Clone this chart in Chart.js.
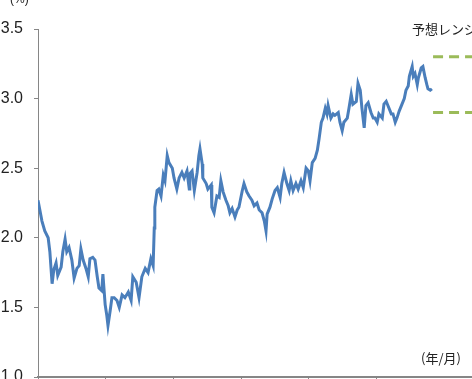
<!DOCTYPE html>
<html>
<head>
<meta charset="utf-8">
<script src="https://cdn.jsdelivr.net/npm/chart.js@4.4.1/dist/chart.umd.min.js"></script>
<style>
  html, body { margin: 0; padding: 0; background: #fff; }
  #wrap { width: 472px; height: 379px; position: relative; }
</style>
</head>
<body>
<div id="wrap"><canvas id="chart"></canvas></div>
<script>
// months from start of series
var months = [0,0.7,1.2,1.8,2.1,2.5,2.8,3.2,3.5,4.1,4.4,4.8,5.1,5.5,6.0,6.4,6.9,7.3,7.6,8.0,
  8.5,8.9,9.2,9.7,10.1,10.5,10.8,11.3,11.5,11.9,12.2,12.4,12.8,13.1,13.5,14.0,14.4,14.9,15.4,16.0,
  16.5,16.8,17.4,17.9,18.4,19.0,19.5,20.0,20.4,20.6,20.7,21.1,21.4,21.8,22.2,22.5,22.9,23.2,23.8,24.1,
  24.6,25.0,25.5,25.9,26.4,26.8,26.9,27.3,27.7,28.2,28.5,28.7,29.1,29.2,29.8,30.1,30.7,30.8,31.2,31.7,
  32.1,32.4,32.8,33.3,33.7,34.0,34.4,34.9,35.3,35.6,36.2,36.5,37.0,37.4,37.9,38.3,38.8,39.2,39.7,40.1,
  40.4,40.6,41.1,41.5,42.0,42.4,42.9,43.2,43.6,44.1,44.5,44.8,45.2,45.7,46.1,46.6,47.0,47.5,47.9,48.2,
  48.6,49.1,49.5,49.8,50.2,50.5,50.9,51.2,51.4,51.9,52.3,52.6,53.2,53.5,53.9,54.2,54.8,55.1,55.5,55.8,
  56.4,56.7,57.1,57.4,57.8,58.1,58.5,59.0,59.4,59.7,60.1,60.4,61.0,61.3,61.7,62.0,62.6,62.9,63.3,63.6,
  64.0,64.5,64.9,65.2,65.6,65.8,66.3,66.5,66.8,67.2,67.4,67.9,68.2,68.6,68.9,69.1,69.5,69.8];

// yield (%)
var yields = [2.27,2.12,2.05,2.00,1.90,1.67,1.77,1.82,1.73,1.79,1.90,1.99,1.90,1.93,1.84,1.71,1.78,1.80,1.92,1.84,
  1.78,1.72,1.85,1.86,1.84,1.72,1.64,1.62,1.74,1.52,1.44,1.37,1.48,1.57,1.57,1.55,1.50,1.59,1.57,1.61,
  1.55,1.72,1.68,1.57,1.72,1.78,1.75,1.85,1.80,2.07,2.22,2.34,2.35,2.30,2.45,2.41,2.59,2.54,2.50,2.43,
  2.35,2.43,2.47,2.43,2.48,2.35,2.46,2.48,2.34,2.47,2.59,2.64,2.53,2.43,2.39,2.35,2.38,2.22,2.18,2.30,
  2.29,2.41,2.33,2.27,2.23,2.18,2.21,2.15,2.20,2.22,2.34,2.39,2.33,2.30,2.27,2.23,2.25,2.20,2.18,2.12,
  2.05,2.17,2.22,2.28,2.34,2.36,2.29,2.39,2.47,2.39,2.34,2.41,2.34,2.39,2.35,2.41,2.36,2.50,2.48,2.41,
  2.54,2.57,2.63,2.71,2.83,2.86,2.93,2.89,2.95,2.86,2.89,2.88,2.90,2.83,2.77,2.83,2.86,2.93,3.03,2.96,
  2.98,3.11,3.06,2.93,2.79,2.95,2.97,2.90,2.86,2.86,2.83,2.89,2.86,2.96,2.98,2.95,2.89,2.89,2.83,2.86,
  2.91,2.96,3.00,3.06,3.09,3.16,3.23,3.16,3.18,3.10,3.15,3.22,3.23,3.15,3.10,3.07,3.06,3.07];

// forecast range
var rangeMonths = [70, 77];
var rangeHigh = [3.3, 3.3];
var rangeLow = [2.9, 2.9];

var yTicks = [1.0, 1.5, 2.0, 2.5, 3.0, 3.5];

function pts(xs, ys) {
  return xs.map(function (x, i) { return { x: x, y: ys[i] }; });
}

var axisGray = "#868686";
var fontFam = "'Liberation Sans', sans-serif";

// extra texts: unit labels and range caption
var textPlugin = {
  id: "texts",
  afterDraw: function (chart) {
    var ctx = chart.ctx;
    ctx.save();
    ctx.fillStyle = "#222";
    ctx.textBaseline = "middle";
    ctx.font = "12px " + fontFam;
    ctx.textAlign = "left";
    ctx.fillText("(%)", 10, 0);
    ctx.font = "13px 'Noto Sans CJK JP', sans-serif";
    ctx.textAlign = "right";
    ctx.fillText("(年/月)", 461, 358);
    ctx.textAlign = "left";
    ctx.fillText("予想レンジ", 412, 29);
    ctx.restore();
  }
};

new Chart(document.getElementById("chart"), {
  type: "line",
  data: {
    datasets: [{
      data: pts(months, yields),
      borderColor: "#4a7ebb",
      borderWidth: 3,
      pointRadius: 0,
      tension: 0
    }, {
      data: pts(rangeMonths, rangeHigh),
      borderColor: "#9bbb59",
      borderWidth: 3,
      borderDash: [10, 6],
      pointRadius: 0
    }, {
      data: pts(rangeMonths, rangeLow),
      borderColor: "#9bbb59",
      borderWidth: 3,
      borderDash: [10, 6],
      pointRadius: 0
    }]
  },
  options: {
    responsive: true,
    maintainAspectRatio: false,
    animation: false,
    layout: { padding: { top: 29, right: 0, bottom: 0, left: 0 } },
    plugins: { legend: { display: false }, tooltip: { enabled: false } },
    scales: {
      x: {
        type: "linear",
        min: 0,
        max: 76.9,
        afterFit: function (s) { s.height = 2; s.paddingLeft = 0; s.paddingRight = 0; },
        ticks: { display: false, stepSize: 12 },
        grid: { drawOnChartArea: false, drawTicks: true, tickLength: 4, color: axisGray },
        border: { color: axisGray, width: 2 }
      },
      y: {
        min: 1.0,
        max: 3.5,
        afterFit: function (s) { s.width = 38; s.paddingTop = 0; s.paddingBottom = 0; },
        afterBuildTicks: function (s) { s.ticks = yTicks.map(function (v) { return { value: v }; }); },
        ticks: {
          padding: 11,
          color: "#222",
          font: { family: fontFam, size: 16 },
          callback: function (v) { return v.toFixed(1); }
        },
        grid: { drawOnChartArea: false, drawTicks: true, tickLength: 4, color: axisGray },
        border: { color: axisGray, width: 1 }
      }
    }
  },
  plugins: [textPlugin]
});
</script>
</body>
</html>
